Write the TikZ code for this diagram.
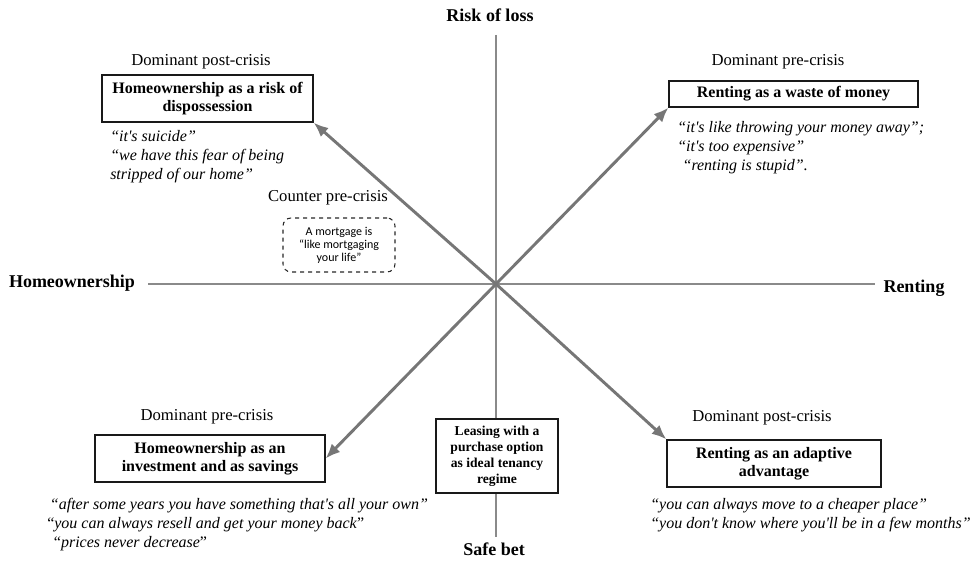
\documentclass[tikz,border=0pt]{standalone}
\usepackage{fontspec}
\setmainfont{Liberation Serif}
\newfontfamily\calibfont{Carlito}
\usepackage{tikz}
\usetikzlibrary{arrows.meta, positioning}
\definecolor{axisgray}{HTML}{8A8A8A}
\definecolor{arrowgray}{HTML}{767676}
\newcommand{\sq}{\textquotesingle}

\begin{document}
\begin{tikzpicture}[x=0.75pt, y=-0.75pt,
    axislabel/.style={font=\fontsize{13.5}{16}\selectfont\bfseries},
    framebox/.style={draw=black!90, line width=0.9pt, fill=white, align=center,
        minimum height=35.3pt, font=\fontsize{12}{13.8}\selectfont\bfseries},
    stance/.style={font=\fontsize{12.5}{15}\selectfont},
    saying/.style={anchor=north west, align=left, inner sep=0pt,
        font=\fontsize{12}{14.2}\selectfont\itshape},
    claim/.style={draw=arrowgray, line width=2.2pt, -{Latex[length=11pt,width=9pt]}}]
        \useasboundingbox (0,0) rectangle (972,563);
        % axes
        \coordinate (o) at (496,284);
        \coordinate (vtop) at (496,35);
        \coordinate (vbot) at (496,537);
        \coordinate (hleft) at (148,284);
        \coordinate (hright) at (875,284);
        \draw[axisgray, line width=0.8pt] (vtop) -- (vbot);
        \draw[axisgray, line width=0.8pt] (hleft) -- (hright);
        \node[axislabel] (riskLabel) at (490,15) {Risk of loss};
        \node[axislabel] (safeLabel) at (494,549) {Safe bet};
        \node[axislabel] (ownLabel) at (72,283) {Homeownership};
        \node[axislabel] (rentLabel) at (914,288) {Renting};
        % the four discourses
        \node[framebox, minimum width=158.3pt] (dispo) at (207.5,98.5)
            {Homeownership as a risk of\\dispossession};
        \node[framebox, minimum width=186.8pt, minimum height=19.5pt] (waste) at (793.5,94)
            {Renting as a waste of money};
        \node[framebox, minimum width=172.5pt] (invest) at (210,458.5)
            {Homeownership as an\\investment and as savings};
        \node[framebox, minimum width=160.5pt] (adapt) at (774,463.5)
            {Renting as an adaptive\\advantage};
        \node[framebox, minimum width=91.5pt, minimum height=55.5pt,
            font=\fontsize{10.2}{12}\selectfont\bfseries] (lease) at (497,456)
            {Leasing with a\\purchase option\\as ideal tenancy\\regime};
        \node[draw=black!85, dashed, rounded corners=6pt, line width=0.8pt, align=center,
            minimum width=84pt, minimum height=40.5pt,
            font=\calibfont\fontsize{9}{9.8}\selectfont] (mortgage) at (339,245)
            {A mortgage is\\“like mortgaging\\your life”};
        % labels above the boxes
        \node[stance] (dispoTag) at (201,62) {Dominant post-crisis};
        \node[stance] (wasteTag) at (778,62) {Dominant pre-crisis};
        \node[stance] (investTag) at (207,417) {Dominant pre-crisis};
        \node[stance] (adaptTag) at (762,418) {Dominant post-crisis};
        \node[stance] (counterTag) at (328,198) {Counter pre-crisis};
        % quotes
        \node[saying] (dispoQuote) at (110,130)
            {``it\sq s suicide''\\``we have this fear of being\\stripped of our home''};
        \node[saying] (wasteQuote) at (677,121)
            {``it\sq s like throwing your money away'';\\``it\sq s too expensive''\\\hspace{4pt}``renting is stupid''.};
        \node[saying] (investQuote) at (47,498)
            {\hspace{2pt}``after some years you have something that\sq s all your own''\\
             \textup{``}you can always resell and get your money back\textup{''}\\
             \hspace{5pt}\textup{``}prices never decrease\textup{''}};
        \node[saying] (adaptQuote) at (650,498)
            {``you can always move to a cheaper place''\\``you don\sq t know where you\sq ll be in a few months''};
        % arrows from the centre
        \foreach \to in {dispo.south east, waste.south west, invest.east, adapt.north west}
            \draw[claim] (o) -- (\to);
\end{tikzpicture}
\end{document}
